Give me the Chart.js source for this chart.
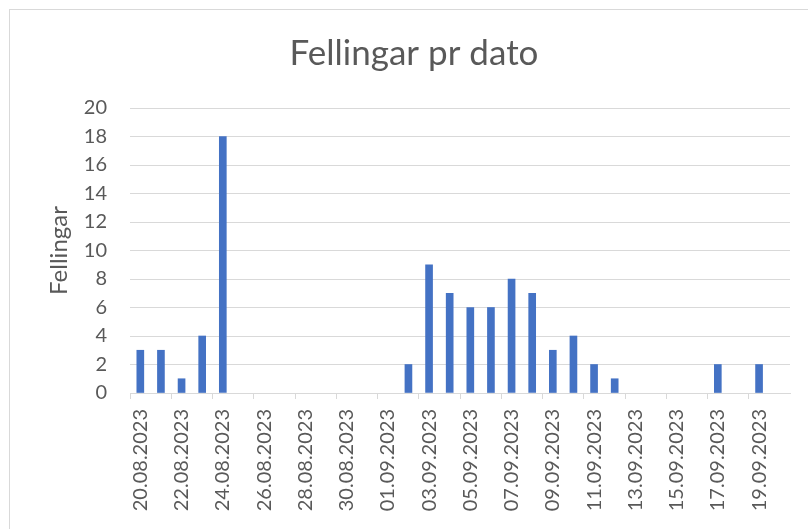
<!DOCTYPE html>
<html>
<head>
<meta charset="utf-8">
<script src="https://cdn.jsdelivr.net/npm/chart.js@4"></script>
<style>
    body { margin: 0; background: #fff; overflow: hidden; }
    #frame { position: absolute; left: 9px; top: 9px; width: 820px; height: 540px; border: 1px solid #d9d9d9; }
    canvas { display: block; }
</style>
</head>
<body>
<div id="frame"><canvas id="fellingChart" width="810" height="530"></canvas></div>
<script>
const dates = [
    '20.08.2023', '21.08.2023', '22.08.2023', '23.08.2023', '24.08.2023', '25.08.2023',
    '26.08.2023', '27.08.2023', '28.08.2023', '29.08.2023', '30.08.2023', '31.08.2023',
    '01.09.2023', '02.09.2023', '03.09.2023', '04.09.2023', '05.09.2023', '06.09.2023',
    '07.09.2023', '08.09.2023', '09.09.2023', '10.09.2023', '11.09.2023', '12.09.2023',
    '13.09.2023', '14.09.2023', '15.09.2023', '16.09.2023', '17.09.2023', '18.09.2023',
    '19.09.2023', '20.09.2023'
];
const fellingar = [
    3, 3, 1, 4, 18, 0,
    0, 0, 0, 0, 0, 0,
    0, 2, 9, 7, 6, 6,
    8, 7, 3, 4, 2, 1,
    0, 0, 0, 0, 2, 0,
    2, 0
];
const yTicks = { min: 0, max: 20, step: 2 };

const TEXT_COLOR = '#595959';
const GRID_COLOR = '#d9d9d9';
const BAR_COLOR = '#4472c4';
const FONT = 'Lato';

const ctx = document.getElementById('fellingChart')?.getContext('2d');
ctx.canvas.setAttribute('role', 'img');
ctx.canvas.setAttribute('aria-label', 'Fellingar pr dato');

new Chart(ctx, {
    type: 'bar',
    data: {
        labels: dates,
        datasets: [{
            label: 'Fellingar',
            data: fellingar,
            // empty days get no visible sliver
            backgroundColor: (c) => (c.raw ? BAR_COLOR : 'transparent'),
            borderWidth: 0,
            barThickness: 7
        }]
    },
    options: {
        responsive: false,
        animation: false,
        layout: { padding: { left: 28, right: 30, top: 0, bottom: 0 } },
        plugins: {
            legend: { display: false },
            tooltip: { enabled: false },
            title: {
                display: true,
                text: 'Fellingar pr dato',
                color: TEXT_COLOR,
                font: { family: FONT, size: 35, weight: 'normal', lineHeight: 1.2 },
                padding: { top: 23, bottom: 33 }
            }
        },
        scales: {
            x: {
                grid: {
                    offset: true,
                    drawOnChartArea: false,
                    tickLength: 6,
                    color: (c) => (c.index % 2 === 0 ? GRID_COLOR : 'transparent')
                },
                border: { color: GRID_COLOR },
                ticks: {
                    autoSkip: false,
                    minRotation: 90,
                    maxRotation: 90,
                    padding: 10,
                    color: TEXT_COLOR,
                    font: { family: FONT, size: 20 },
                    callback: (val, i) => (i % 2 === 0 ? dates[i] : '')
                },
                afterFit: (scale) => { scale.height = 147; }
            },
            y: {
                min: yTicks.min,
                max: yTicks.max,
                grid: { color: GRID_COLOR, drawTicks: false },
                border: { display: false },
                ticks: {
                    stepSize: yTicks.step,
                    padding: 23,
                    color: TEXT_COLOR,
                    font: { family: FONT, size: 20 }
                },
                title: {
                    display: true,
                    text: 'Fellingar',
                    color: TEXT_COLOR,
                    font: { family: FONT, size: 24, lineHeight: 1.2 },
                    padding: { top: 7, bottom: 0 }
                },
                afterFit: (scale) => { scale.width = 92; }
            }
        }
    }
});
</script>
</body>
</html>
